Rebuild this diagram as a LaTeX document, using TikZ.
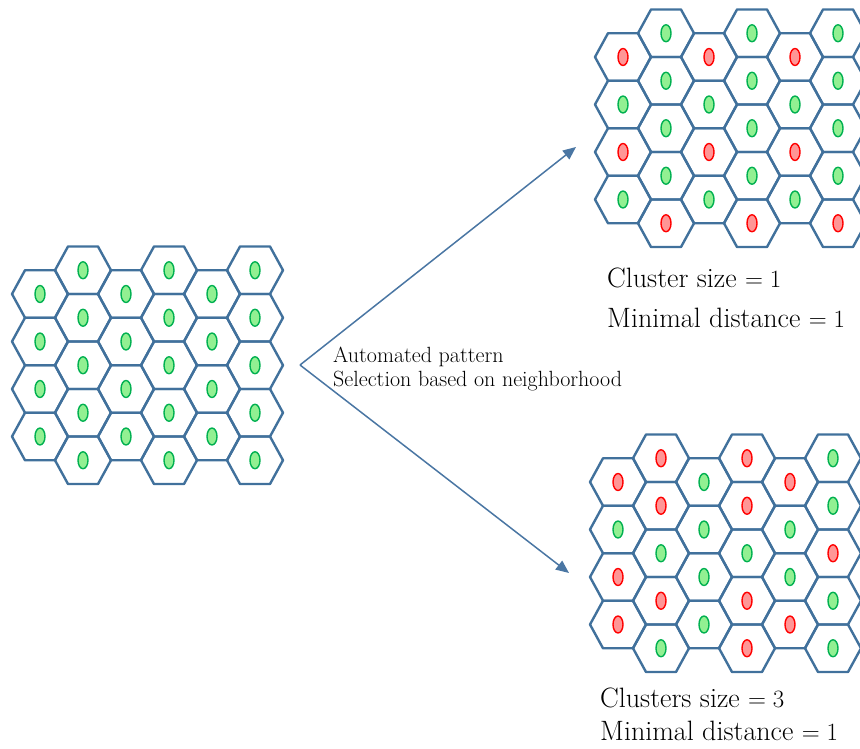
\documentclass[tikz,border=0pt]{standalone}
\usepackage{tikz}
\usetikzlibrary{arrows.meta}

\definecolor{hexblue}{RGB}{65,113,156}
\definecolor{flowblue}{RGB}{74,118,163}
\definecolor{cellgreen}{RGB}{146,240,146}
\definecolor{edgegreen}{RGB}{0,176,80}
\definecolor{cellred}{RGB}{255,150,150}
\definecolor{edgered}{RGB}{255,0,0}

% hexagonal grid: #1,#2 = centre of first cell, #3 = cell colours column by column
\newcommand{\cellgrid}[3]{%
  \foreach \cells [count=\col from 0] in {#3} {
    \pgfmathsetmacro{\cx}{#1+43*\col}
    \pgfmathsetmacro{\cy}{#2-23.75*mod(\col,2)}
    \foreach \c [count=\row from 0] in \cells {
      \draw[hexcell] (\cx-28,\cy+47.5*\row) -- ++(13,-23.75) -- ++(30,0) -- ++(13,23.75)
        -- ++(-13,23.75) -- ++(-30,0) -- cycle;
      \draw[cell\c] (\cx,\cy+47.5*\row) ellipse[x radius=5pt, y radius=8.5pt];
    }
  }%
}

\begin{document}
\begin{tikzpicture}[x=1pt, y=-1pt,
  hexcell/.style={draw=hexblue, line width=2.4pt, line join=round},
  cellg/.style={fill=cellgreen, draw=edgegreen, line width=1.4pt},
  cellr/.style={fill=cellred, draw=edgered, line width=1.4pt},
  flow/.style={draw=flowblue, line width=1.5pt, -{Triangle[length=13pt, width=11pt]}},
  lbl/.style={align=left, inner sep=0pt, font=\fontsize{28}{40}\selectfont},
  note/.style={align=left, inner sep=0pt, font=\fontsize{22}{24}\selectfont}
]
\clip (0,0) rectangle (860,749);

% initial, cluster size 1, cluster size 3
\cellgrid{40}{294}{{g,g,g,g},{g,g,g,g,g},{g,g,g,g},{g,g,g,g,g},{g,g,g,g},{g,g,g,g,g}}
\cellgrid{623}{57}{{r,g,r,g},{g,g,g,g,r},{r,g,r,g},{g,g,g,g,r},{r,g,r,g},{g,g,g,g,r}}
\cellgrid{618}{482}{{r,g,r,r},{r,r,g,r,g},{g,g,g,g},{r,r,g,r,r},{r,g,g,r},{g,g,r,g,g}}

\coordinate (fork) at (300,365);
\coordinate (topgrid) at (576,147);
\coordinate (botgrid) at (569,573);
\draw[flow] (fork) -- (topgrid);
\draw[flow] (fork) -- (botgrid);

\node[note, anchor=base west] (rule) at (333,386) {Automated pattern\\Selection based on neighborhood};
\node[lbl, anchor=base west] (sizeone) at (607,327) {Cluster size $=1$\\Minimal distance $=1$};
\node[lbl, anchor=base west, font=\fontsize{28}{33}\selectfont] (sizethree) at (600,740) {Clusters size $=3$\\Minimal distance $=1$};
\end{tikzpicture}
\end{document}
